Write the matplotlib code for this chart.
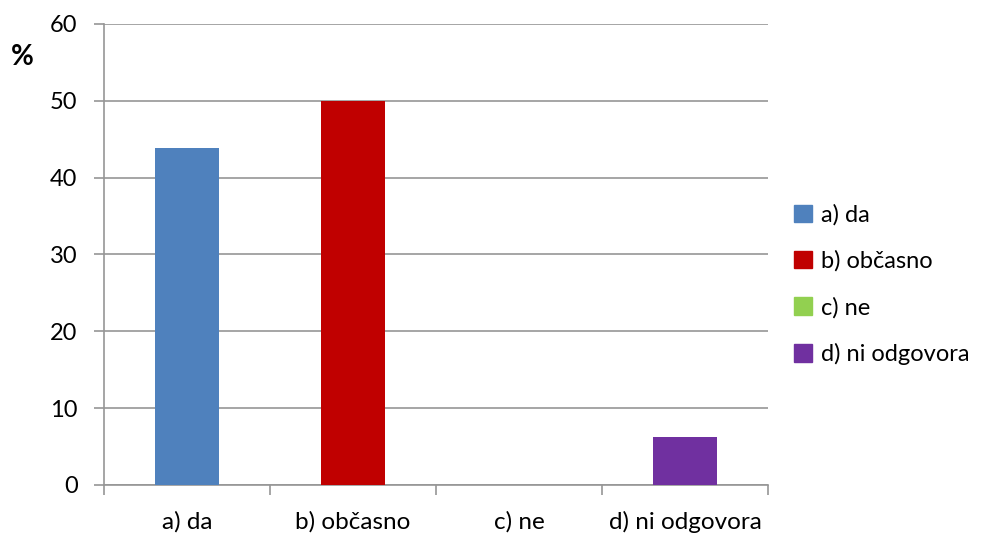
import numpy as np
import matplotlib.pyplot as plt
from matplotlib.patches import Patch

# podatki
kategorije = ['a) da', 'b) občasno', 'c) ne', 'd) ni odgovora']
odstotki = [43.8, 50.0, 0.0, 6.25]
barve = ['#4F81BD', '#C00000', '#92D050', '#7030A0']
y_ticks = [0, 10, 20, 30, 40, 50, 60]

plt.rcParams['font.family'] = ['Lato', 'DejaVu Sans']

fig = plt.figure(figsize=(9.84, 5.39), dpi=100)
ax = fig.add_axes([0.1057, 0.1002, 0.6748, 0.8553])

x = np.arange(len(kategorije))
ax.bar(x, odstotki, width=0.39, color=barve, zorder=3)

ax.set_xlim(-0.5, len(kategorije) - 0.5)
ax.set_ylim(0, 60)
ax.set_yticks(y_ticks)
ax.yaxis.grid(True, color='#969696', linewidth=1.2, zorder=0)

# oznake kategorij pod sredino, kljukice med kategorijami
ax.set_xticks(np.arange(-0.5, len(kategorije)), minor=False)
ax.set_xticklabels([])
ax.set_xticks(x, minor=True)
ax.set_xticklabels(kategorije, minor=True)
ax.tick_params(axis='x', which='major', length=7, width=1.2, color='#969696')
ax.tick_params(axis='x', which='minor', length=0, pad=19, labelsize=17.5)
ax.tick_params(axis='y', length=7, width=1.2, color='#969696', labelsize=17, pad=12)

for s in ['top', 'right']:
    ax.spines[s].set_visible(False)
for s in ['left', 'bottom']:
    ax.spines[s].set_color('#969696')
    ax.spines[s].set_linewidth(1.2)

fig.text(0.011, 0.88, '%', fontsize=20, fontweight='bold')

ročaji = [Patch(color=b, label=k) for b, k in zip(barve, kategorije)]
fig.legend(handles=ročaji, loc='center left', bbox_to_anchor=(0.807, 0.472),
           frameon=False, fontsize=17, handlelength=0.75, handleheight=0.75,
           handletextpad=0.4, labelspacing=1.05, borderpad=0, borderaxespad=0)

fig.savefig('out.png', dpi=100)
